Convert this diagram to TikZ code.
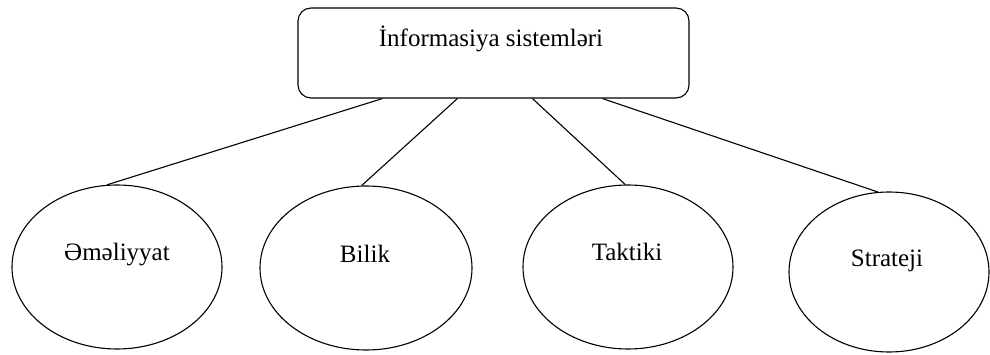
\documentclass[tikz,border=0pt]{standalone}
\usepackage{fontspec}
\setmainfont{Liberation Serif}
\usetikzlibrary{shapes.geometric}
\begin{document}
\begin{tikzpicture}[x=1pt,y=-1pt,
  line width=1.1pt,
  font=\fontsize{25}{30}\selectfont,
  oval/.style={draw, ellipse, inner sep=0pt},
  rootbox/.style={draw, rounded corners=13pt, inner sep=0pt},
  caption/.style={anchor=base, inner sep=0pt},
  link/.style={draw, line width=1.1pt}]
\useasboundingbox (0,0) rectangle (990,355);

% root box
\node[rootbox, minimum width=391pt, minimum height=90pt] (top) at (493.5,53) {};
\node[caption] (toptext) at (491,47) {İnformasiya sistemləri};

% four category ellipses
\node[oval, minimum width=210pt, minimum height=164pt] (e1) at (117,267) {};
\node[oval, minimum width=212pt, minimum height=164pt] (e2) at (366,268) {};
\node[oval, minimum width=210pt, minimum height=164pt] (e3) at (628,267) {};
\node[oval, minimum width=200pt, minimum height=160pt] (e4) at (889,272) {};

\node[caption] (t1) at (117,261) {Əməliyyat};
\node[caption] (t2) at (365,263) {Bilik};
\node[caption] (t3) at (627,261) {Taktiki};
\node[caption] (t4) at (887,267) {Strateji};

% connectors
\draw[link] ([xshift=85pt]top.south west) -- (e1.97);
\draw[link] ([xshift=160pt]top.south west) -- (e2.93);
\draw[link] ([xshift=235pt]top.south west) -- (e3.92);
\draw[link] ([xshift=305pt]top.south west) -- (e4.98);
\end{tikzpicture}
\end{document}
